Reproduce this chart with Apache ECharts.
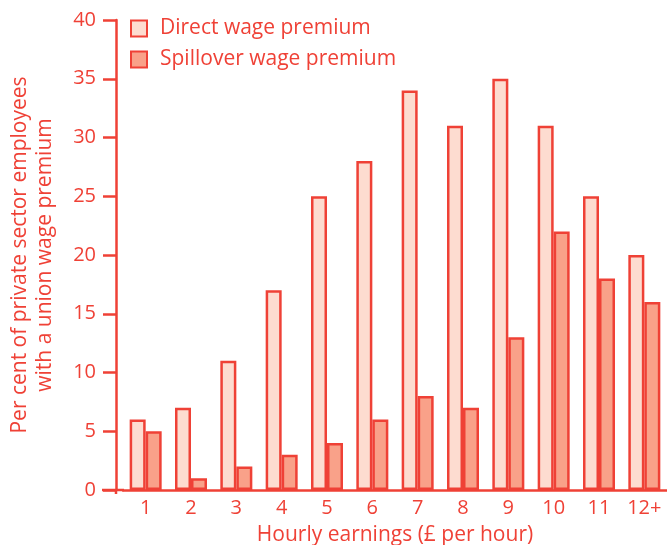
<!DOCTYPE html>
<html>
<head>
<meta charset="utf-8">
<script src="https://cdn.jsdelivr.net/npm/echarts@6/dist/echarts.min.js"></script>
<style>
  html, body { margin: 0; padding: 0; background: #fff; }
  #chart { width: 667px; height: 545px; }
</style>
</head>
<body>
<div id="chart"></div>
<script>
// categories and values
var categories = ['1', '2', '3', '4', '5', '6', '7', '8', '9', '10', '11', '12+'];
var directPremium = [6, 7, 11, 17, 25, 28, 34, 31, 35, 31, 25, 20];
var spilloverPremium = [5, 1, 2, 3, 4, 6, 8, 7, 13, 22, 18, 16];
var yTicks = [0, 5, 10, 15, 20, 25, 30, 35, 40];

var RED = '#ef4136';
var FONT = 'Open Sans';

var chart = echarts.init(document.getElementById('chart'));

chart.setOption({
  backgroundColor: '#fff',
  animation: false,
  textStyle: { fontFamily: FONT, color: RED },
  grid: { left: 123, right: 0, top: 20, bottom: 55, containLabel: false, outerBoundsMode: 'none' },
  legend: {
    orient: 'vertical',
    left: 130,
    top: 18,
    padding: 0,
    itemWidth: 16,
    itemHeight: 16,
    itemGap: 10,
    icon: 'rect',
    textStyle: { fontFamily: FONT, fontSize: 21, lineHeight: 16, color: RED, padding: [0, 0, 0, 8] },
    data: ['Direct wage premium', 'Spillover wage premium']
  },
  xAxis: {
    type: 'category',
    data: categories,
    axisLine: { lineStyle: { color: RED, width: 2.5 } },
    axisTick: { show: false },
    axisLabel: { color: RED, fontSize: 20, margin: 8, fontFamily: FONT },
    name: 'Hourly earnings (£ per hour)',
    nameLocation: 'middle',
    nameGap: 35,
    nameTextStyle: { color: RED, fontSize: 21, fontFamily: FONT }
  },
  yAxis: {
    type: 'value',
    min: yTicks[0],
    max: yTicks[yTicks.length - 1],
    interval: 5,
    offset: 7,
    splitLine: { show: false },
    axisLine: { show: true, lineStyle: { color: RED, width: 2.5 } },
    axisTick: { show: true, length: 13, lineStyle: { color: RED, width: 2.5 } },
    axisLabel: { color: RED, fontSize: 20, margin: 20, fontFamily: FONT },
    name: 'Per cent of private sector employees\nwith a union wage premium',
    nameLocation: 'middle',
    nameGap: 58,
    nameTextStyle: { color: RED, fontSize: 21, lineHeight: 25, fontFamily: FONT }
  },
  series: [
    {
      name: 'Direct wage premium',
      type: 'bar',
      data: directPremium,
      barWidth: 16,
      barGap: '0%',
      itemStyle: { color: '#fddcd0', borderColor: RED, borderWidth: 2.5 }
    },
    {
      name: 'Spillover wage premium',
      type: 'bar',
      data: spilloverPremium,
      barWidth: 16,
      barGap: '0%',
      itemStyle: { color: '#f9a189', borderColor: RED, borderWidth: 2.5 }
    }
  ]
});

// the baseline runs on past the y axis to the end of the zero tick
var y0 = chart.convertToPixel({ yAxisIndex: 0 }, 0);
chart.setOption({
  graphic: [{
    type: 'line',
    shape: { x1: 102, y1: y0, x2: 124, y2: y0 },
    style: { stroke: RED, lineWidth: 2.5 },
    z: 10
  }, {
    type: 'line',
    shape: { x1: 116, y1: y0, x2: 116, y2: y0 + 4 },
    style: { stroke: RED, lineWidth: 2.5 },
    z: 10
  }]
});
</script>
</body>
</html>
